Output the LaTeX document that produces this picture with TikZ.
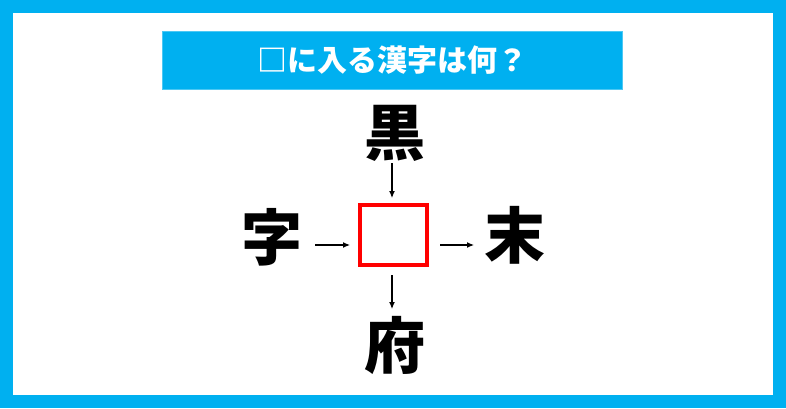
\documentclass[tikz,border=0pt]{standalone}
\usepackage{fontspec}
\newfontfamily\cjk{Noto Sans CJK JP}
\usetikzlibrary{arrows.meta}
\definecolor{skyblue}{HTML}{00B0F0}
\definecolor{boxred}{HTML}{FF0000}
\tikzset{
  kanji/.style={font=\cjk\bfseries\fontsize{61}{64}\selectfont, inner sep=0pt, text=black},
  conn/.style={line width=1.2pt, -{Latex[length=7pt,width=6pt]}},
}
\begin{document}
\begin{tikzpicture}[x=1pt,y=-1pt]
\useasboundingbox (0,0) rectangle (786,408);
\fill[skyblue] (0,0) rectangle (786,408);
\fill[white] (13,13) rectangle (773,395);
\node[fill=skyblue, draw=skyblue!70, minimum width=460pt, minimum height=58pt, inner sep=0pt,
  text=white, font=\cjk\bfseries\fontsize{30}{33}\selectfont] (title) at (392,60) {□に入る漢字は何？};
\node[kanji] (top) at (395,133) {黒};
\node[kanji] (left) at (272,237) {字};
\node[kanji] (right) at (515,235) {末};
\node[kanji] (bottom) at (395,345) {府};
\node[draw=boxred, line width=4pt, minimum width=67pt, minimum height=60pt, inner sep=0pt] (box) at (393.5,234.5) {};
\coordinate (ts) at (392,163);
\coordinate (te) at (392,198);
\coordinate (ls) at (315,245);
\coordinate (le) at (350,245);
\coordinate (rs) at (440,245);
\coordinate (re) at (474,245);
\coordinate (bs) at (392,275);
\coordinate (be) at (392,309);
\draw[conn] (ts) -- (te);
\draw[conn] (ls) -- (le);
\draw[conn] (rs) -- (re);
\draw[conn] (bs) -- (be);
\end{tikzpicture}
\end{document}
